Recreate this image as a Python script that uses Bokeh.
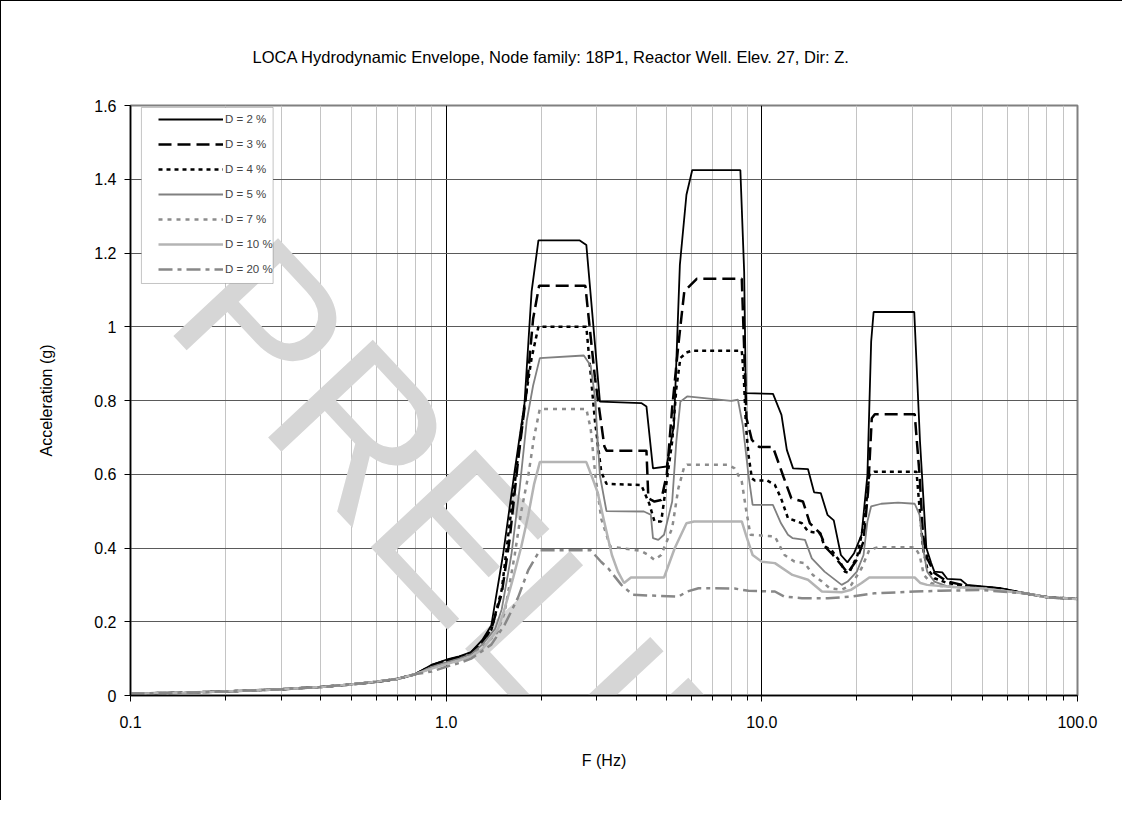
from bokeh.plotting import figure
from bokeh.models import (Range1d, FixedTicker, CustomJSTickFormatter, Legend, LegendItem,
                          Label, BoxAnnotation, Title)
from bokeh.embed import file_html
from bokeh.resources import INLINE

# ---------------- data ----------------
low_f = [0.1, 0.15, 0.2, 0.3, 0.4, 0.5, 0.6, 0.7, 0.8]
low_a = [0.005, 0.008, 0.011, 0.017, 0.023, 0.030, 0.037, 0.045, 0.058]

f2 = low_f + [0.9, 1.0, 1.1, 1.2, 1.3, 1.39, 1.515, 1.65, 1.77, 1.865, 1.96, 2.65, 2.78, 3.07,
              4.15, 4.31, 4.52, 4.99, 5.27, 5.5, 5.77, 6.02, 8.55, 8.79, 8.9, 10.85, 11.54,
              12.0, 12.56, 14.0, 14.64, 15.37, 16.14, 16.9, 17.8, 18.67, 19.6, 20.7, 21.6,
              22.2, 22.6, 30.4, 31.7, 33.2, 34.4, 35.2, 37.3, 38.7, 42.7, 44.7, 57.1, 68.0,
              80.9, 100.0]
a2 = low_a + [0.083, 0.097, 0.106, 0.118, 0.150, 0.190, 0.383, 0.612, 0.790, 1.096, 1.234,
              1.234, 1.222, 0.797, 0.793, 0.784, 0.616, 0.621, 0.734, 1.168, 1.358, 1.425,
              1.425, 1.150, 0.820, 0.818, 0.761, 0.666, 0.616, 0.614, 0.551, 0.549, 0.490,
              0.475, 0.381, 0.361, 0.386, 0.436, 0.598, 0.960, 1.040, 1.040, 0.689, 0.400,
              0.359, 0.336, 0.334, 0.316, 0.314, 0.300, 0.291, 0.277, 0.266, 0.262]

f3 = low_f + [0.9, 1.0, 1.1, 1.2, 1.3, 1.39, 1.50, 1.59, 1.69, 1.80, 1.885, 1.97, 2.76, 2.96,
              3.17, 3.22, 4.31, 4.37, 4.57, 4.8, 5.0, 5.2, 5.44, 5.68, 6.22, 8.64, 8.84, 8.94,
              9.3, 9.8, 10.84, 11.7, 12.4, 13.5, 14.2, 15.3, 16.0, 16.8, 17.9, 18.7, 20.0,
              21.0, 21.7, 22.3, 22.8, 30.5, 31.6, 32.4, 33.4, 35.2, 38.7, 44.7, 57.0, 68.0,
              81.0, 100.0]
a3 = low_a + [0.082, 0.095, 0.104, 0.116, 0.145, 0.180, 0.277, 0.426, 0.638, 0.830, 1.021,
              1.111, 1.111, 0.862, 0.676, 0.664, 0.664, 0.535, 0.526, 0.530, 0.600, 0.780,
              0.951, 1.096, 1.130, 1.130, 0.879, 0.752, 0.693, 0.674, 0.674, 0.594, 0.535,
              0.526, 0.467, 0.440, 0.400, 0.381, 0.353, 0.332, 0.368, 0.418, 0.553, 0.752,
              0.763, 0.763, 0.598, 0.436, 0.372, 0.332, 0.309, 0.297, 0.290, 0.277, 0.266,
              0.262]

f4 = low_f + [0.9, 1.0, 1.1, 1.2, 1.3, 1.39, 1.50, 1.59, 1.69, 1.77, 1.865, 1.96, 2.78, 2.96,
              3.10, 3.22, 4.15, 4.4, 4.57, 4.8, 5.2, 5.36, 5.52, 5.77, 6.0, 8.64, 8.77, 8.9,
              9.07, 9.3, 9.5, 10.4, 11.0, 11.5, 12.1, 13.4, 14.0, 15.3, 15.8, 16.6, 17.7,
              18.3, 18.9, 20.1, 21.1, 21.9, 22.7, 30.9, 31.6, 32.4, 33.4, 35.2, 38.7, 44.7,
              57.0, 68.0, 81.0, 100.0]
a4 = low_a + [0.080, 0.093, 0.103, 0.115, 0.142, 0.178, 0.287, 0.468, 0.649, 0.787, 0.915,
              1.000, 1.000, 0.745, 0.606, 0.574, 0.571, 0.520, 0.472, 0.472, 0.689, 0.833,
              0.915, 0.930, 0.935, 0.935, 0.861, 0.734, 0.653, 0.589, 0.583, 0.583, 0.571,
              0.535, 0.481, 0.467, 0.445, 0.440, 0.404, 0.395, 0.363, 0.336, 0.332, 0.381,
              0.472, 0.598, 0.607, 0.607, 0.508, 0.400, 0.345, 0.318, 0.305, 0.296, 0.290,
              0.277, 0.266, 0.262]

f5 = low_f + [0.9, 1.0, 1.1, 1.2, 1.3, 1.43, 1.50, 1.61, 1.71, 1.80, 1.885, 1.98, 2.73, 2.87,
              2.96, 3.07, 3.22, 4.23, 4.45, 4.52, 4.7, 4.9, 5.2, 5.36, 5.52, 5.8, 8.0, 8.4,
              8.7, 9.07, 9.35, 10.84, 11.5, 12.1, 12.5, 13.7, 14.4, 15.8, 17.9, 18.7, 20.0,
              21.0, 21.6, 22.2, 23.9, 27.0, 30.5, 31.6, 32.4, 33.4, 35.2, 38.7, 50.0, 68.0,
              81.0, 100.0]
a5 = low_a + [0.078, 0.090, 0.100, 0.112, 0.138, 0.181, 0.234, 0.383, 0.564, 0.745, 0.840,
              0.915, 0.922, 0.894, 0.809, 0.596, 0.500, 0.499, 0.490, 0.427, 0.422, 0.436,
              0.526, 0.689, 0.797, 0.811, 0.799, 0.802, 0.734, 0.598, 0.517, 0.517, 0.467,
              0.436, 0.427, 0.422, 0.372, 0.336, 0.300, 0.309, 0.336, 0.381, 0.472, 0.513,
              0.520, 0.523, 0.520, 0.490, 0.400, 0.336, 0.309, 0.296, 0.291, 0.277, 0.266,
              0.262]

f7 = low_f + [0.9, 1.0, 1.1, 1.2, 1.3, 1.45, 1.53, 1.65, 1.73, 1.82, 1.90, 1.98, 2.78, 2.87,
              2.97, 3.10, 3.31, 4.15, 4.37, 4.57, 4.8, 5.2, 5.44, 5.68, 5.8, 7.8, 8.2, 8.64,
              8.9, 9.2, 11.0, 11.8, 12.7, 13.7, 14.5, 15.5, 16.4, 17.9, 19.2, 20.7, 21.9,
              23.3, 30.5, 31.6, 32.6, 34.4, 36.9, 50.0, 68.0, 81.0, 100.0]
a7 = low_a + [0.075, 0.087, 0.097, 0.108, 0.130, 0.170, 0.223, 0.383, 0.500, 0.596, 0.702,
              0.777, 0.777, 0.723, 0.596, 0.479, 0.404, 0.392, 0.381, 0.368, 0.381, 0.454,
              0.562, 0.621, 0.626, 0.626, 0.616, 0.580, 0.508, 0.436, 0.431, 0.381, 0.363,
              0.359, 0.327, 0.309, 0.291, 0.287, 0.300, 0.345, 0.395, 0.402, 0.402, 0.381,
              0.327, 0.305, 0.297, 0.290, 0.277, 0.266, 0.262]

f10 = low_f + [0.9, 1.0, 1.1, 1.2, 1.3, 1.46, 1.53, 1.63, 1.73, 1.82, 1.90, 1.98, 2.78, 2.92,
               3.02, 3.17, 3.35, 3.50, 3.66, 3.85, 4.9, 5.3, 5.77, 6.1, 8.64, 8.9, 9.35, 10.0,
               11.0, 12.5, 14.0, 15.5, 17.9, 19.2, 20.7, 21.9, 30.5, 31.8, 33.4, 40.0, 50.0,
               68.0, 81.0, 100.0]
a10 = low_a + [0.073, 0.085, 0.095, 0.106, 0.125, 0.180, 0.234, 0.319, 0.404, 0.489, 0.574,
               0.633, 0.633, 0.585, 0.550, 0.470, 0.381, 0.336, 0.305, 0.320, 0.320, 0.400,
               0.467, 0.472, 0.472, 0.436, 0.381, 0.363, 0.359, 0.327, 0.314, 0.282, 0.280,
               0.287, 0.305, 0.320, 0.320, 0.305, 0.300, 0.294, 0.290, 0.277, 0.266, 0.262]

f20 = low_f + [0.9, 1.0, 1.1, 1.2, 1.39, 1.53, 1.69, 1.82, 1.98, 2.87, 2.96, 3.10, 3.26, 3.59,
               3.9, 5.44, 5.8, 6.3, 8.2, 9.07, 11.0, 11.8, 13.4, 16.2, 19.2, 22.7, 30.5, 36.9,
               50.0, 68.0, 81.0, 100.0]
a20 = low_a + [0.065, 0.078, 0.088, 0.100, 0.138, 0.191, 0.266, 0.340, 0.394, 0.394, 0.381,
               0.362, 0.345, 0.300, 0.273, 0.268, 0.282, 0.291, 0.290, 0.284, 0.282, 0.268,
               0.264, 0.264, 0.268, 0.277, 0.282, 0.284, 0.286, 0.277, 0.266, 0.262]

series_labels = ["D = 2 %", "D = 3 %", "D = 4 %", "D = 5 %", "D = 7 %", "D = 10 %", "D = 20 %"]
x_ticks = [0.1, 1.0, 10.0, 100.0]
x_minor = [m * d for d in (0.1, 1.0, 10.0) for m in range(2, 10)]
y_ticks = [0, 0.2, 0.4, 0.6, 0.8, 1.0, 1.2, 1.4, 1.6]

title_text = "LOCA Hydrodynamic Envelope, Node family: 18P1, Reactor Well. Elev. 27, Dir: Z."
watermark_text = "PRELIMINARY"

# ---------------- figure ----------------
W, H = 1122, 800
FONT = "Liberation Sans"
p = figure(width=W, height=H, x_axis_type="log", output_backend="svg",
           toolbar_location=None, x_range=Range1d(0.1, 100), y_range=Range1d(0, 1.6),
           min_border_left=129, min_border_right=46, min_border_top=104, min_border_bottom=106)
p.background_fill_color = "white"
p.border_fill_color = "white"
p.outline_line_color = "#808080"
p.outline_line_width = 2
p.styles = {"border-left": "1px solid black", "border-top": "1px solid black"}

p.title = Title(text=title_text, align="left", offset=122, standoff=80,
                text_font=FONT, text_font_size="16.5px", text_font_style="normal",
                text_color="black")

# axes
p.xaxis.ticker = FixedTicker(ticks=x_ticks, minor_ticks=x_minor)
p.yaxis.ticker = FixedTicker(ticks=y_ticks)
p.xaxis.formatter = CustomJSTickFormatter(code="return tick.toFixed(1);")
p.yaxis.formatter = CustomJSTickFormatter(code="return (Math.round(tick*10)/10).toString();")
for ax in (p.xaxis, p.yaxis):
    ax.axis_line_color = "black"
    ax.axis_line_width = 1.5
    ax.major_tick_line_color = "black"
    ax.major_tick_in = 0
    ax.major_tick_out = 6
    ax.major_label_text_font = FONT
    ax.major_label_text_font_size = "16px"
    ax.major_label_text_color = "black"
    ax.axis_label_text_font = FONT
    ax.axis_label_text_font_size = "16px"
    ax.axis_label_text_font_style = "normal"
    ax.axis_label_text_color = "black"
p.xaxis.minor_tick_line_color = "black"
p.xaxis.minor_tick_in = 0
p.xaxis.minor_tick_out = 5
p.yaxis.minor_tick_line_color = None
p.xaxis.major_label_standoff = 14
p.yaxis.major_label_standoff = 8
p.xaxis.axis_label = "F (Hz)"
p.yaxis.axis_label = "Acceleration (g)"
p.xaxis.axis_label_standoff = 21
p.yaxis.axis_label_standoff = 36

# grid
p.xgrid.ticker = p.xaxis.ticker
p.ygrid.ticker = p.yaxis.ticker
p.xgrid.grid_line_color = "black"
p.xgrid.grid_line_width = 1
p.xgrid.minor_grid_line_color = "#c4c4c4"
p.xgrid.minor_grid_line_width = 1
p.ygrid.grid_line_color = "#5a5a5a"
p.ygrid.grid_line_width = 1

# watermark
wm = Label(x=212, y=272, x_units="canvas", y_units="canvas", text=watermark_text,
           angle=-0.82, text_font=FONT, text_font_size="208px", text_color="#d6d6d6",
           text_align="left", text_baseline="middle", level="underlay")
p.add_layout(wm)

# curves
styles = [
    (f2, a2, dict(line_color="black", line_width=1.8)),
    (f3, a3, dict(line_color="black", line_width=2.5, line_dash="13 6")),
    (f4, a4, dict(line_color="black", line_width=2.5, line_dash="4 4")),
    (f5, a5, dict(line_color="#808080", line_width=1.8)),
    (f7, a7, dict(line_color="#8c8c8c", line_width=2.5, line_dash="4 5")),
    (f10, a10, dict(line_color="#b4b4b4", line_width=2.5)),
    (f20, a20, dict(line_color="#888888", line_width=2.5, line_dash="14 5 4 5")),
]
items = []
for (fx, ay, st), lab in zip(styles, series_labels):
    r = p.line(fx, ay, **st)
    items.append(LegendItem(label=lab, renderers=[r]))

# legend frame (drawn as a box in data space), then a frameless legend on top
legend_box = BoxAnnotation(left=0.1083, right=0.2830, top=1.5946, bottom=1.1173,
                           fill_color="white", fill_alpha=1,
                           line_color="#404040", line_width=1)
p.add_layout(legend_box)

legend = Legend(items=items, location=(28, 416))
legend.label_text_font = FONT
legend.label_text_font_size = "11.5px"
legend.label_standoff = 2
legend.glyph_width = 65
legend.glyph_height = 20
legend.label_height = 20
legend.spacing = 5
legend.padding = 0
legend.margin = 0
legend.border_line_color = None
legend.background_fill_alpha = 0
p.add_layout(legend, "center")

open("out.html", "w").write(file_html(p, INLINE))
